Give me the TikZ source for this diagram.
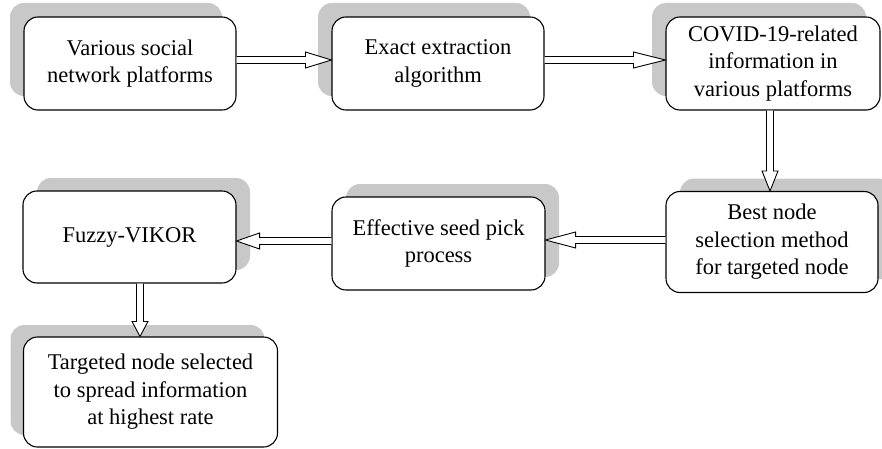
\documentclass[tikz,border=0pt]{standalone}
\usepackage{fontspec}
\setmainfont{Liberation Serif}
\usetikzlibrary{shadows,calc}
\definecolor{shadowgray}{HTML}{C8C8C8}
\def\sw{3.5}
\def\hw{8}
\newcommand\harrow[3]{\draw[barrow] let \p1=(#1), \p2=(#2) in
  (\x1,\y1+\sw) -- ({\x2-(#3)},\y1+\sw) -- ({\x2-(#3)},\y1+\hw) -- (\x2,\y1)
  -- ({\x2-(#3)},\y1-\hw) -- ({\x2-(#3)},\y1-\sw) -- (\x1,\y1-\sw);}
\newcommand\varrow[3]{\draw[barrow] let \p1=(#1), \p2=(#2) in
  (\x1+\sw,\y1) -- (\x1+\sw,{\y2+(#3)}) -- (\x1+\hw,{\y2+(#3)}) -- (\x1,\y2)
  -- (\x1-\hw,{\y2+(#3)}) -- (\x1-\sw,{\y2+(#3)}) -- (\x1-\sw,\y1);}
\tikzset{
  box/.style={draw=black, line width=1.1pt, fill=white, rounded corners=14pt,
    align=center, inner sep=0pt, font=\fontsize{22.5}{27.5}\selectfont},
  shUL/.style={general shadow={shadow xshift=-14pt, shadow yshift=14pt, fill=shadowgray}},
  shUR/.style={general shadow={shadow xshift=14pt, shadow yshift=13pt, fill=shadowgray}},
  barrow/.style={draw=black, line width=0.9pt, fill=white, line join=miter}
}
\begin{document}
\begin{tikzpicture}[x=1pt, y=-1pt]
\useasboundingbox (0,0) rectangle (882,449);
\node[box, shUL, minimum width=212pt, minimum height=93pt] (n1) at (130,63.5)
  {Various social\\network platforms};
\node[box, shUL, minimum width=212pt, minimum height=93pt] (n2) at (438,63.5)
  {Exact extraction\\algorithm};
\node[box, shUL, minimum width=214pt, minimum height=93pt] (n3) at (773,63.5)
  {COVID-19-related\\information in\\various platforms};
\node[box, shUR, minimum width=212pt, minimum height=101pt] (n4) at (772,242)
  {Best node\\selection method\\for targeted node};
\node[box, shUR, minimum width=213pt, minimum height=93pt] (n5) at (438.5,243.5)
  {Effective seed pick\\process};
\node[box, shUR, minimum width=213pt, minimum height=92pt] (n6) at (129.5,237)
  {Fuzzy-VIKOR};
\node[box, general shadow={shadow xshift=-13pt, shadow yshift=12pt, fill=shadowgray},
  minimum width=254pt, minimum height=110pt] (n7) at (150.5,392)
  {Targeted node selected\\to spread information\\at highest rate};
\harrow{$(n1.east)+(0,-3.5)$}{$(n2.west)+(0,-3.5)$}{26}
\harrow{$(n2.east)+(0,-3.5)$}{$(n3.west)+(0,-3.5)$}{32}
\varrow{$(n3.south)+(-3,0)$}{$(n4.north)+(-3,0)$}{20}
\harrow{$(n4.west)+(0,-2)$}{$(n5.east)+(0,-3.5)$}{-30}
\harrow{$(n5.west)+(0,-2.5)$}{$(n6.east)+(0,4)$}{-23}
\varrow{$(n6.south)+(10.5,0)$}{$(n7.north)+(10.5,0)$}{15}
\end{tikzpicture}
\end{document}
